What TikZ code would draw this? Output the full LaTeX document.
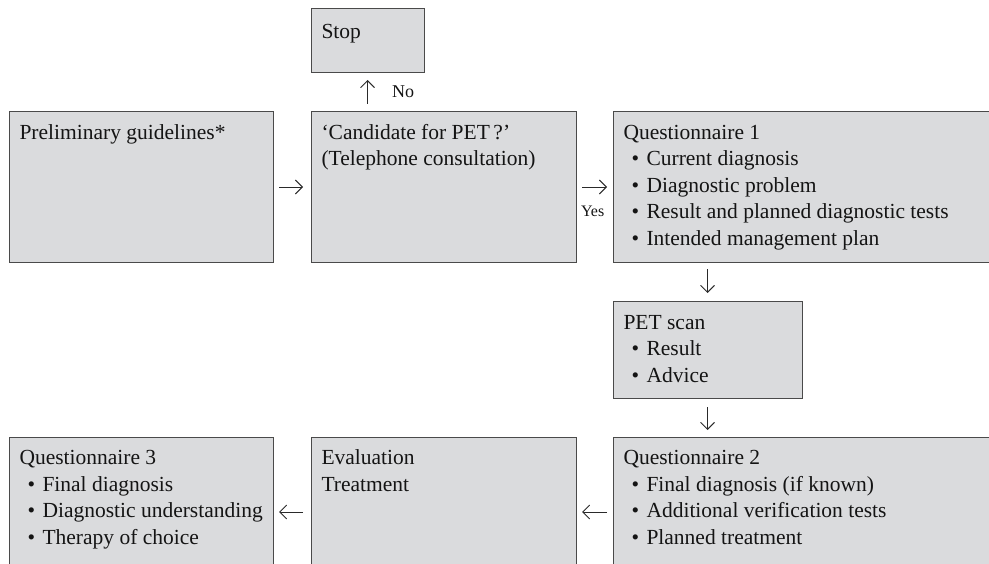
\documentclass[tikz,border=0pt]{standalone}
\usepackage{fontspec}
\setmainfont{Liberation Serif}
\usetikzlibrary{arrows.meta}
\definecolor{boxfill}{HTML}{DADBDD}
\definecolor{boxline}{HTML}{4A4A4A}
\definecolor{arrcol}{HTML}{2A2A2A}
\newcommand\bitem{\hspace*{8bp}\textbullet\hspace*{7.5bp}}
\tikzset{
  box/.style={draw=boxline, fill=boxfill, line width=1bp, inner sep=0pt, outer sep=0pt, anchor=north west},
  txt/.style={inner sep=0pt, outer sep=0pt, anchor=base west, font=\fontsize{21.5bp}{26.5bp}\selectfont, text=black!92},
  lbl/.style={inner sep=0pt, outer sep=0pt, anchor=base west, text=black!92},
  arr/.style={draw=arrcol, line width=0.9bp, -{Straight Barb[length=7bp,width=14bp,line width=0.9bp]}}
}
\begin{document}
\begin{tikzpicture}[x=1bp,y=-1bp]
\useasboundingbox (0,0) rectangle (989,564);
\clip (0,0) rectangle (989,564);
% boxes
\node[box, minimum width=113bp, minimum height=64bp] (stop) at (311,9) {};
\node[box, minimum width=264bp, minimum height=150bp] (prelim) at (9,112) {};
\node[box, minimum width=265bp, minimum height=150bp] (cand) at (311,112) {};
\node[box, minimum width=380bp, minimum height=150bp] (q1) at (613,112) {};
\node[box, minimum width=189bp, minimum height=97bp] (pet) at (613,301) {};
\node[box, minimum width=380bp, minimum height=150bp] (q2) at (613,437) {};
\node[box, minimum width=265bp, minimum height=150bp] (eval) at (311,437) {};
\node[box, minimum width=264bp, minimum height=150bp] (q3) at (9,437) {};
% texts
\node[txt] (tstop) at (321.5,38.5) {Stop};
\node[txt] (tprelim) at (19.5,140) {Preliminary guidelines*};
\node[txt] (tcand) at (321.5,139.5) {\begin{tabular}[t]{@{}l@{}}‘Candidate for PET\,?’\\(Telephone consultation)\end{tabular}};
\node[txt] (tq1) at (623.5,139.5) {\begin{tabular}[t]{@{}l@{}}Questionnaire 1\\\bitem Current diagnosis\\\bitem Diagnostic problem\\\bitem Result and planned diagnostic tests\\\bitem Intended management plan\end{tabular}};
\node[txt] (tpet) at (623.5,329) {\begin{tabular}[t]{@{}l@{}}PET scan\\\bitem Result\\\bitem Advice\end{tabular}};
\node[txt] (tq2) at (623.5,464.5) {\begin{tabular}[t]{@{}l@{}}Questionnaire 2\\\bitem Final diagnosis (if known)\\\bitem Additional verification tests\\\bitem Planned treatment\end{tabular}};
\node[txt] (teval) at (321.5,464.5) {\begin{tabular}[t]{@{}l@{}}Evaluation\\Treatment\end{tabular}};
\node[txt] (tq3) at (19.5,464.5) {\begin{tabular}[t]{@{}l@{}}Questionnaire 3\\\bitem Final diagnosis\\\bitem Diagnostic understanding\\\bitem Therapy of choice\end{tabular}};
% labels
\node[lbl, font=\fontsize{18bp}{20bp}\selectfont] (no) at (392,98) {No};
\node[lbl, font=\fontsize{16bp}{18bp}\selectfont] (yes) at (581,216.5) {Yes};
% connectors
\draw[arr, shorten <=6bp, shorten >=8bp] (prelim.east) -- (cand.west);
\draw[arr, shorten <=6bp, shorten >=6bp] (cand.east) -- (q1.west);
\draw[arr, shorten <=8bp, shorten >=7bp] (cand.north -| stop.south) -- (stop.south);
\draw[arr, shorten <=7bp, shorten >=8bp] (q1.south -| pet.north) -- (pet.north);
\draw[arr, shorten <=9bp, shorten >=7bp] (pet.south) -- (q2.north -| pet.south);
\draw[arr, shorten <=6bp, shorten >=6bp] (q2.west) -- (eval.east);
\draw[arr, shorten <=8bp, shorten >=6bp] (eval.west) -- (q3.east);
\end{tikzpicture}
\end{document}
